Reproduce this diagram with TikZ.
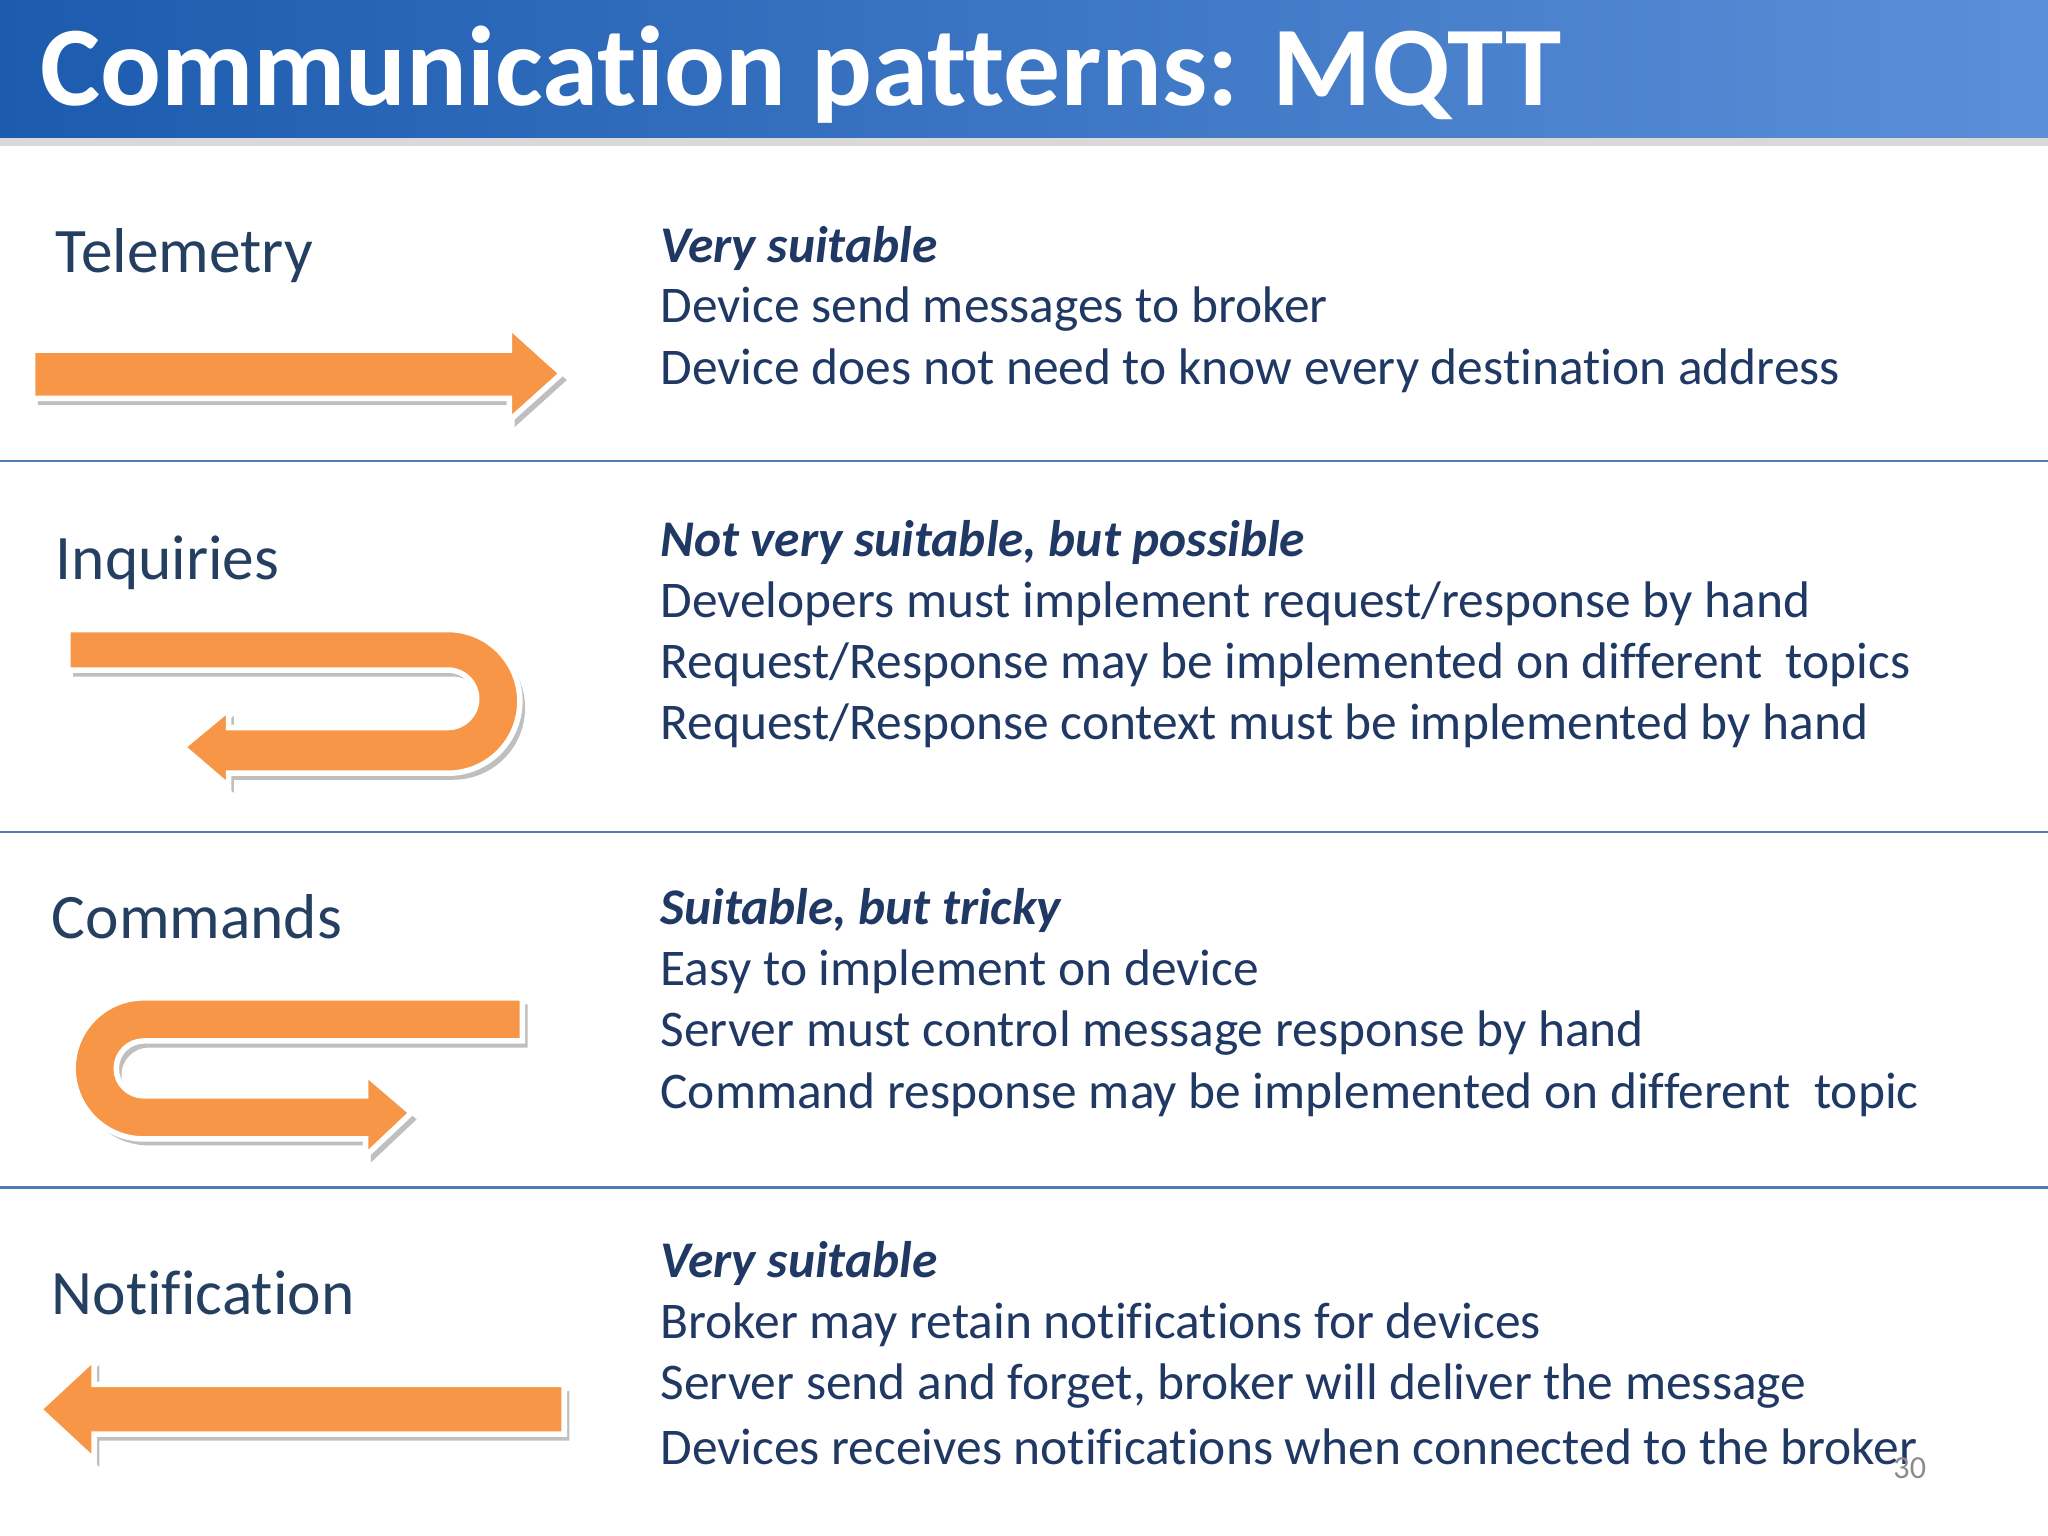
\documentclass[tikz,border=0pt]{standalone}
\usepackage{fontspec}
\setmainfont{Carlito}[Ligatures=NoCommon]
\definecolor{navy}{HTML}{1F3864}
\definecolor{lbl}{HTML}{243F60}
\definecolor{orng}{HTML}{F79646}
\definecolor{tb1}{HTML}{1C5BAE}
\definecolor{tb2}{HTML}{5B8FD8}
\definecolor{sep}{HTML}{4F7CB5}
\begin{document}
\begin{tikzpicture}[x=0.01cm,y=-0.01cm,
  lab/.style={anchor=west,text=lbl,font=\fontsize{13.8}{16}\selectfont,inner sep=0pt},
  head/.style={anchor=west,text=navy,font=\fontsize{11.2}{13}\selectfont\bfseries\itshape,inner sep=0pt},
  body/.style={anchor=west,text=navy,font=\fontsize{11.2}{13}\selectfont,inner sep=0pt},
  arr/.style={fill=orng,draw=white,line width=1.2pt,line join=miter},
  shad/.style={fill=black!25,draw=none,shift={(4,5)}}]
\useasboundingbox (0,0) rectangle (1568,1176);
\fill[black!15] (0,100) rectangle (1568,112);
\shade[left color=tb1,right color=tb2] (0,0) rectangle (1568,105);
\node[anchor=west,text=white,font=\fontsize{24.7}{30}\selectfont\bfseries,inner sep=0pt] (title) at (30,57) {Communication patterns: MQTT};
\foreach \y in {353,637,909} \draw[sep,line width=0.6pt] (0,\y) -- (1568,\y);
% telemetry arrow
\def\tel{(25,268) -- (390,268) -- (390,250) -- (430,286) -- (390,322) -- (390,305) -- (25,305) -- cycle}
\fill[shad] \tel; \path[arr] \tel;
% inquiries
\def\inq{(52,482) -- (343,482) arc[start angle=-90,end angle=90,radius=55] -- (175,592) -- (175,602) -- (140,572) -- (175,543) -- (175,557) -- (343,557) arc[start angle=90,end angle=-90,radius=22] -- (52,513) -- cycle}
\fill[shad] \inq; \path[arr] \inq;
% commands
\def\cmd{(400,764) -- (110,764) arc[start angle=-90,end angle=-270,radius=54] -- (280,872) -- (280,885) -- (315,852) -- (280,822) -- (280,839) -- (110,839) arc[start angle=90,end angle=270,radius=21] -- (400,797) -- cycle}
\fill[shad] \cmd; \path[arr] \cmd;
% notification
\def\ntf{(432,1060) -- (72,1060) -- (72,1040) -- (30,1079) -- (72,1118) -- (72,1098) -- (432,1098) -- cycle}
\fill[shad] \ntf; \path[arr] \ntf;
% labels
\node[lab] (l1) at (42,196) {Telemetry};
\node[lab] (l2) at (42,431) {Inquiries};
\node[lab] (l3) at (39,702) {Commands};
\node[lab] (l4) at (39,990) {Notification};
% texts
\node[head] (h1) at (505,190) {Very suitable};
\node[body] (t11) at (505,237) {Device send messages to broker};
\node[body] (t12) at (505,284) {Device does not need to know every destination address};
\node[head] (h2) at (505,415) {Not very suitable, but possible};
\node[body] (t21) at (505,462) {Developers must implement request/response by hand};
\node[body] (t22) at (505,509) {Request/Response may be implemented on different\ \ topics};
\node[body] (t23) at (505,556) {Request/Response context must be implemented by hand};
\node[head] (h3) at (505,697) {Suitable, but tricky};
\node[body] (t31) at (505,744) {Easy to implement on device};
\node[body] (t32) at (505,791) {Server must control message response by hand};
\node[body] (t33) at (505,838) {Command response may be implemented on different\ \ topic};
\node[head] (h4) at (505,967) {Very suitable};
\node[body] (t41) at (505,1014) {Broker may retain notifications for devices};
\node[body] (t42) at (505,1061) {Server send and forget, broker will deliver the message};
\node[body] (t43) at (505,1108) {Devices receives notifications when connected to the broker};
\node[anchor=west,text=black!45,font=\fontsize{7}{8}\selectfont,inner sep=0pt] (pg) at (1449,1124) {30};
\end{tikzpicture}
\end{document}
